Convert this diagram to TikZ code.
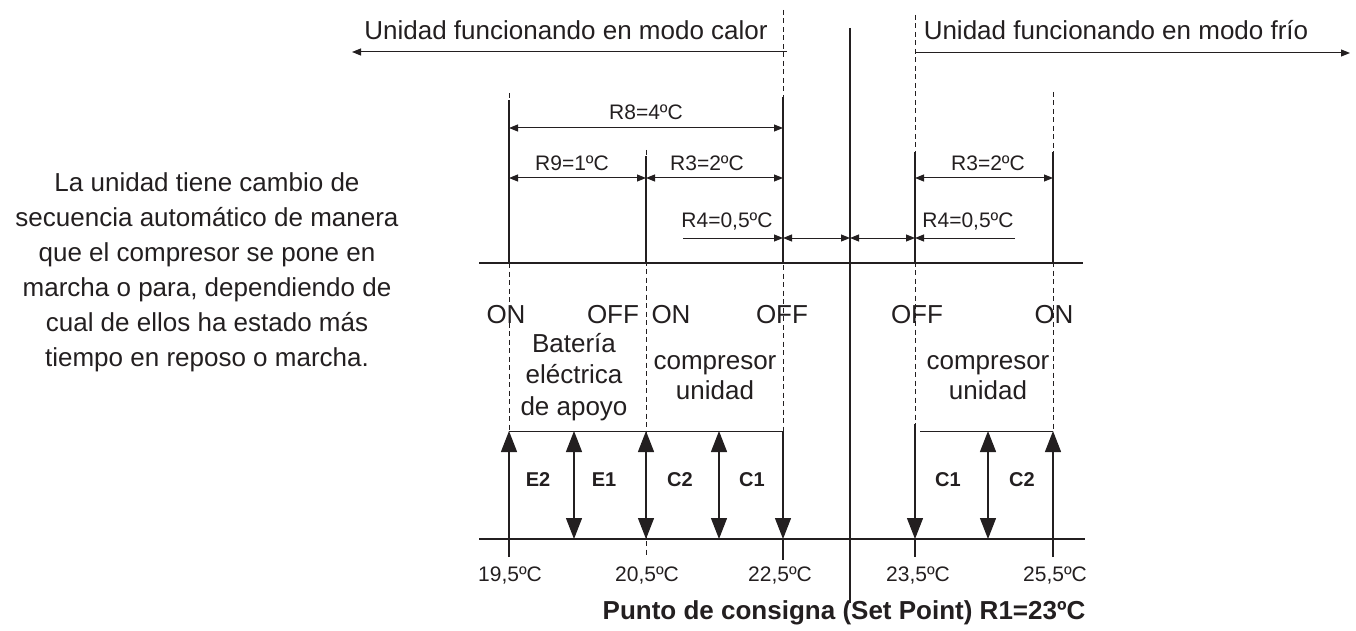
\documentclass[tikz,border=0pt]{standalone}
\usepackage{fontspec}
\setmainfont{Liberation Sans}
\usetikzlibrary{arrows.meta}
\definecolor{ink}{RGB}{35,31,32}
\begin{document}
\begin{tikzpicture}[x=1pt,y=-1pt,
  solidl/.style={draw=ink,line width=1.3pt},
  thinl/.style={draw=ink,line width=1pt},
  dashl/.style={draw=ink,line width=0.9pt,dash pattern=on 5pt off 3.5pt},
  dimarr/.style={thinl,>={Triangle[length=9pt,width=7pt]}},
  bigarr/.style={solidl,>={Triangle[length=21pt,width=16pt]}},
  txt/.style={inner sep=0pt,text=ink,font=\fontsize{26}{32}\selectfont},
  rlab/.style={inner sep=0pt,text=ink,font=\fontsize{21}{25}\selectfont},
  blab/.style={inner sep=0pt,text=ink,font=\bfseries\fontsize{20}{24}\selectfont},
]
\useasboundingbox (0,0) rectangle (1356,631);

% column coordinates
\foreach \n/\x in {a/509,b/646,c/783,m/850,d/915,e/1053,p/574,q/719,r/988}{
  \coordinate (\n-R8) at (\x,128);
  \coordinate (\n-R3) at (\x,178);
  \coordinate (\n-R4) at (\x,238);
  \coordinate (\n-ax1) at (\x,263);
  \coordinate (\n-rect) at (\x,431);
  \coordinate (\n-ax2) at (\x,539);
  \coordinate (\n-low) at (\x,557);
}

% axes
\coordinate (ax1L) at (479,263); \coordinate (ax1R) at (1083,263);
\coordinate (ax2L) at (479,539); \coordinate (ax2R) at (1085,539);
\draw[solidl] (ax1L) -- (ax1R);
\draw[solidl] (ax2L) -- (ax2R);

% top mode arrows
\coordinate (heatS) at (787,52); \coordinate (heatE) at (352,52);
\coordinate (coldS) at (916,53); \coordinate (coldE) at (1350,53);
\draw[dimarr,->] (heatS) -- (heatE);
\draw[dimarr,->] (coldS) -- (coldE);
\node[txt] (heat) at (566,30) {Unidad funcionando en modo calor};
\node[txt] (cold) at (1116,30) {Unidad funcionando en modo frío};

% column a (19,5)
\coordinate (a-top) at (509,93); \coordinate (a-s) at (509,100);
\draw[dashl] (a-top) -- (a-rect);
\draw[solidl] (a-s) -- (a-ax1);
\draw[bigarr,->] (a-low) -- (a-rect);

% column b (20,5)
\coordinate (b-top) at (646,150); \coordinate (b-s) at (646,156);
\draw[dashl] (b-top) -- (b-low);
\draw[solidl] (b-s) -- (b-ax1);
\draw[bigarr,<->] (b-rect) -- (b-ax2);

% column c (22,5)
\coordinate (c-top) at (783,10); \coordinate (c-s) at (783,97); \coordinate (c-end) at (783,560);
\draw[dashl] (c-top) -- (c-rect);
\draw[solidl] (c-s) -- (c-ax1);
\draw[bigarr,->] (c-rect) -- (c-ax2);
\draw[solidl] (c-ax2) -- (c-end);

% centre line
\coordinate (m-top) at (850,28); \coordinate (m-end) at (850,603);
\draw[solidl] (m-top) -- (m-end);

% column d (23,5)
\coordinate (d-top) at (915,15); \coordinate (d-s) at (915,152); \coordinate (d-arr) at (915,424);
\draw[dashl] (d-top) -- (d-arr);
\draw[solidl] (d-s) -- (d-ax1);
\draw[bigarr,->] (d-arr) -- (d-ax2);
\draw[solidl] (d-ax2) -- (d-low);

% column e (25,5)
\coordinate (e-top) at (1053,92); \coordinate (e-s) at (1053,152);
\draw[dashl] (e-top) -- (e-rect);
\draw[solidl] (e-s) -- (e-ax1);
\draw[bigarr,->] (e-low) -- (e-rect);

% rectangle tops
\coordinate (d-rect2) at (920,431);
\draw[thinl] (a-rect) -- (c-rect);
\draw[thinl] (d-rect2) -- (e-rect);

% inner double arrows
\draw[bigarr,<->] (p-rect) -- (p-ax2);
\draw[bigarr,<->] (q-rect) -- (q-ax2);
\draw[bigarr,<->] (r-rect) -- (r-ax2);

% dimension arrows
\draw[dimarr,<->] (a-R8) -- (c-R8);
\draw[dimarr,<->] (a-R3) -- (b-R3);
\draw[dimarr,<->] (b-R3) -- (c-R3);
\draw[dimarr,<->] (d-R3) -- (e-R3);
\coordinate (R4Ls) at (683,238); \coordinate (R4Rs) at (1015,238);
\draw[dimarr,->] (R4Ls) -- (c-R4);
\draw[dimarr,<->] (c-R4) -- (m-R4);
\draw[dimarr,<->] (m-R4) -- (d-R4);
\draw[dimarr,->] (R4Rs) -- (d-R4);

\node[rlab] (lR8) at (646,112) {R8=4ºC};
\node[rlab] (lR9) at (572,163) {R9=1ºC};
\node[rlab] (lR3a) at (707,163) {R3=2ºC};
\node[rlab] (lR4a) at (727,222) {R4=0,5ºC};
\node[rlab] (lR3b) at (988,163) {R3=2ºC};
\node[rlab] (lR4b) at (968,222) {R4=0,5ºC};

% ON / OFF
\node[txt] (on1) at (506,315) {ON};
\node[txt] (off1) at (613,315) {OFF};
\node[txt] (on2) at (671,315) {ON};
\node[txt] (off2) at (782,315) {OFF};
\node[txt] (off3) at (917,315) {OFF};
\node[txt] (on3) at (1054,315) {ON};

\node[txt,align=center,font=\fontsize{26}{31.5}\selectfont] (bat) at (574,377) {Batería\\eléctrica\\de apoyo};
\node[txt,align=center,font=\fontsize{26}{30}\selectfont] (comp1) at (715,378) {compresor\\unidad};
\node[txt,align=center,font=\fontsize{26}{30}\selectfont] (comp2) at (988,378) {compresor\\unidad};

% stage labels
\node[blab] (E2) at (538,480) {E2};
\node[blab] (E1) at (604,480) {E1};
\node[blab] (C2a) at (680,480) {C2};
\node[blab] (C1a) at (752,480) {C1};
\node[blab] (C1b) at (948,480) {C1};
\node[blab] (C2b) at (1022,480) {C2};

% temperatures
\node[rlab] (t1) at (510,575) {19,5ºC};
\node[rlab] (t2) at (647,575) {20,5ºC};
\node[rlab] (t3) at (780,575) {22,5ºC};
\node[rlab] (t4) at (918,575) {23,5ºC};
\node[rlab] (t5) at (1055,575) {25,5ºC};

\node[txt,font=\bfseries\fontsize{26}{30}\selectfont] (title) at (844,613) {Punto de consigna (Set Point) R1=23ºC};

% paragraph
\node[txt,align=center,font=\fontsize{26}{35}\selectfont] (para) at (207,272) {La unidad tiene cambio de\\secuencia automático de manera\\que el compresor se pone en\\marcha o para, dependiendo de\\cual de ellos ha estado más\\tiempo en reposo o marcha.};
\end{tikzpicture}
\end{document}
